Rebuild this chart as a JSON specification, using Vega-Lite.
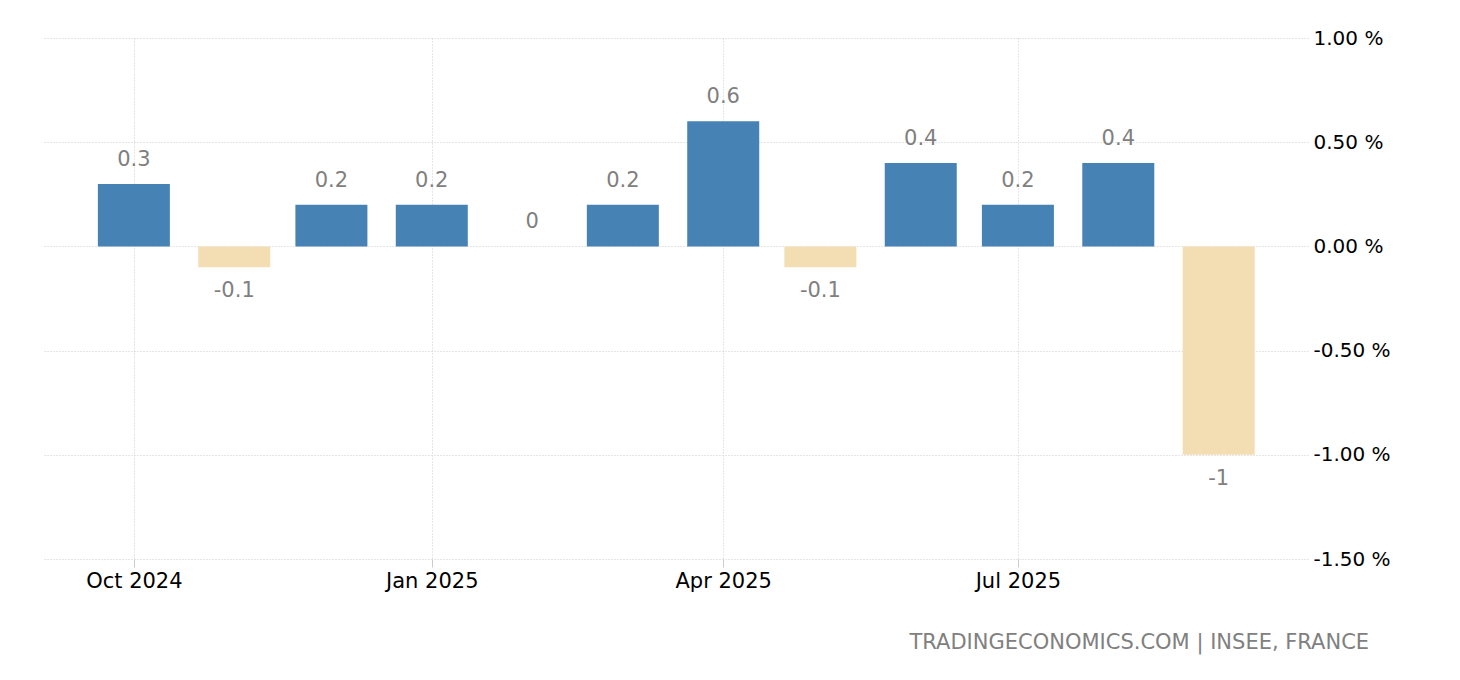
{
  "$schema": "https://vega.github.io/schema/vega-lite/v6.json",
  "autosize": "none",
  "width": 1264,
  "height": 521,
  "padding": {"left": 44, "top": 38, "right": 152, "bottom": 121},
  "background": "white",
  "config": {
    "view": {"stroke": null},
    "font": "DejaVu Sans"
  },
  "title": {
    "text": "TRADINGECONOMICS.COM | INSEE, FRANCE",
    "orient": "bottom",
    "anchor": "end",
    "dx": -21,
    "offset": 41,
    "fontSize": 21,
    "font": "DejaVu Sans",
    "fontWeight": "normal",
    "color": "#808080"
  },
  "data": {
    "values": [
      {"date": "2024-10-01", "value": 0.3},
      {"date": "2024-11-01", "value": -0.1},
      {"date": "2024-12-01", "value": 0.2},
      {"date": "2025-01-01", "value": 0.2},
      {"date": "2025-02-01", "value": 0},
      {"date": "2025-03-01", "value": 0.2},
      {"date": "2025-04-01", "value": 0.6},
      {"date": "2025-05-01", "value": -0.1},
      {"date": "2025-06-01", "value": 0.4},
      {"date": "2025-07-01", "value": 0.2},
      {"date": "2025-08-01", "value": 0.4},
      {"date": "2025-09-01", "value": -1}
    ]
  },
  "encoding": {
    "x": {
      "field": "date",
      "type": "temporal",
      "scale": {
        "type": "utc",
        "padding": 0,
        "domain": [
          {"year": 2024, "month": 9, "date": 3, "hours": 6, "utc": true},
          {"year": 2025, "month": 9, "date": 28, "hours": 14, "utc": true}
        ]
      },
      "axis": {
        "title": null,
        "values": [
          {"year": 2024, "month": 10, "date": 1, "utc": true},
          {"year": 2025, "month": 1, "date": 1, "utc": true},
          {"year": 2025, "month": 4, "date": 1, "utc": true},
          {"year": 2025, "month": 7, "date": 1, "utc": true}
        ],
        "labelExpr": "utcFormat(datum.value, '%b %Y')",
        "domain": false,
        "grid": true,
        "gridColor": "#cccccc",
        "gridDash": [1, 2],
        "ticks": true,
        "tickColor": "#cccccc",
        "tickSize": 8,
        "labelFontSize": 21,
        "labelFont": "DejaVu Sans",
        "labelColor": "#000000",
        "labelPadding": 3,
        "labelFlush": false
      }
    },
    "y": {
      "field": "value",
      "type": "quantitative",
      "scale": {"domain": [-1.5, 1], "nice": false, "zero": true},
      "axis": {
        "title": null,
        "orient": "right",
        "values": [-1.5, -1, -0.5, 0, 0.5, 1],
        "labelExpr": "replace(format(datum.value, '.2f'), '\u2212', '-') + ' %'",
        "domain": false,
        "ticks": false,
        "grid": true,
        "gridColor": "#cccccc",
        "gridDash": [1, 2],
        "labelFontSize": 20,
        "labelFont": "DejaVu Sans",
        "labelColor": "#000000",
        "labelPadding": 5,
        "labelAlign": "left"
      }
    }
  },
  "layer": [
    {
      "mark": {"type": "bar", "width": 72},
      "encoding": {
        "color": {
          "condition": {"test": "datum.value < 0", "value": "#F3DDB3"},
          "value": "#4682B4"
        }
      }
    },
    {
      "transform": [{"filter": "datum.value >= 0"}],
      "mark": {"type": "text", "baseline": "middle", "dy": -24, "fontSize": 21, "color": "#808080", "font": "DejaVu Sans", "text": {"expr": "'' + datum.value"}}
    },
    {
      "transform": [{"filter": "datum.value < 0"}],
      "mark": {"type": "text", "baseline": "middle", "dy": 24, "fontSize": 21, "color": "#808080", "font": "DejaVu Sans", "text": {"expr": "'' + datum.value"}}
    }
  ]
}
